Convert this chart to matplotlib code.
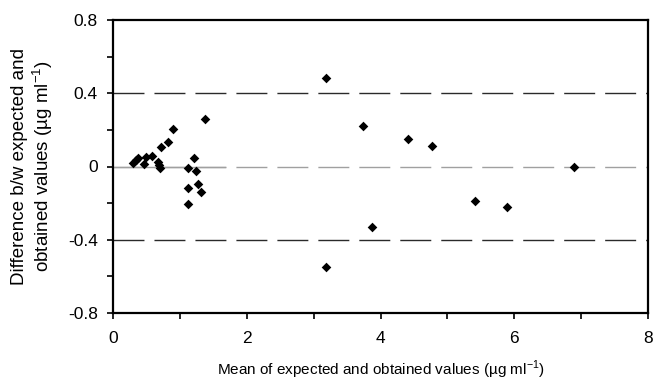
import matplotlib
matplotlib.use("Agg")
import matplotlib.pyplot as plt
from matplotlib.ticker import MultipleLocator

plt.rcParams['font.family'] = ['Liberation Sans', 'DejaVu Sans']
plt.rcParams['mathtext.fontset'] = 'custom'
plt.rcParams['mathtext.rm'] = 'Liberation Sans'

mean_vals = [0.30, 0.34, 0.38, 0.46, 0.50, 0.58, 0.67, 0.70, 0.69, 0.72, 0.82, 0.90,
             1.375, 1.215, 1.117, 1.236, 1.275, 1.117, 1.31, 1.117,
             3.19, 3.19, 3.74, 3.88, 4.405, 4.77, 5.42, 5.89, 6.89]
diff_vals = [0.021, 0.035, 0.045, 0.014, 0.054, 0.057, 0.023, -0.010, 0.008, 0.105, 0.135, 0.206,
             0.258, 0.048, -0.008, -0.025, -0.097, -0.116, -0.138, -0.205,
             0.482, -0.551, 0.223, -0.329, 0.150, 0.114, -0.188, -0.219, 0.0]
limits = [0.4, -0.4]
bias = 0.0

fig = plt.figure(figsize=(6.53, 3.81), dpi=100)
ax = fig.add_axes([113/653, 68/381, (648-113)/653, (313-20)/381])

dash = (22.3, 7.2)
for lv in limits:
    ax.axhline(lv, color='#2a2a2a', lw=1.0, dashes=dash, zorder=1)
ax.axhline(bias, color='#a0a0a0', lw=1.0, dashes=dash, zorder=1)
ax.plot([0, 1.67], [bias, bias], color='#a0a0a0', lw=1.0, zorder=1)

ax.scatter(mean_vals, diff_vals, marker='D', s=24, color='black', zorder=3, linewidths=0)

ax.set_xlim(0, 8)
ax.set_ylim(-0.8, 0.8)
ax.xaxis.set_minor_locator(MultipleLocator(1))
ax.yaxis.set_minor_locator(MultipleLocator(0.2))
ax.set_yticks([0.8, 0.4, 0, -0.4, -0.8])
ax.set_yticklabels(['0.8', '0.4', '0', '-0.4', '-0.8'])
ax.set_xticks([0, 2, 4, 6, 8])
ax.set_xticklabels(['0', '2', '4', '6', '8'])

ax.tick_params(which='both', direction='out', length=4, width=1.2, labelsize=12.5, colors='black')
ax.tick_params(axis='y', pad=7)
ax.tick_params(axis='x', pad=9)
for s in ax.spines.values():
    s.set_linewidth(1.6)
    s.set_color('black')

ax.set_xlabel('Mean of expected and obtained values (µg ml$^{-1}$)', fontsize=11, va='center')
ax.xaxis.set_label_coords(0.5, (313 - 370) / 293)
ax.set_ylabel('Difference b/w expected and\nobtained values (µg ml$^{-1}$)', fontsize=13.5,
              linespacing=1.1, va='center', ha='center')
ax.yaxis.set_label_coords((33 - 113) / 535, 0.5)

fig.savefig('out.png', dpi=100)
